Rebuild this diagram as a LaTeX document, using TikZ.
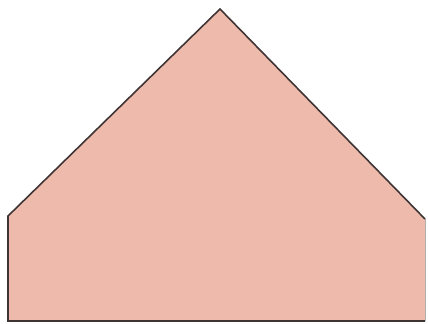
\documentclass[tikz,border=0pt]{standalone}
\usepackage{tikz}
\definecolor{salmonfill}{RGB}{238,186,172}
\definecolor{edgegray}{RGB}{62,52,52}

\begin{document}
\begin{tikzpicture}[
	x=0.2mm, y=-0.2mm,
	house edge/.style={edgegray, line width=0.9pt, line join=miter},
	house fill/.style={fill=salmonfill},
	]
	
	% Page frame
	\useasboundingbox[fill=white] (0,0) rectangle (428,324);
	
	% Pentagon
	\coordinate (apex) at (220, 9);
	\coordinate (lshoulder) at (8, 216);
	\coordinate (rshoulder) at (425, 219);
	\coordinate (lfoot) at (8, 321);
	\coordinate (rfoot) at (425, 321);
	
	\fill[house fill] (apex) -- (rshoulder) -- (rfoot) -- (lfoot) -- (lshoulder) -- cycle;
	\draw[house edge] (rshoulder) -- (apex) -- (lshoulder) -- (lfoot) -- (rfoot);
	\draw[edgegray!40, line width=0.5pt] (rshoulder) -- (rfoot);
	
\end{tikzpicture}
\end{document}
